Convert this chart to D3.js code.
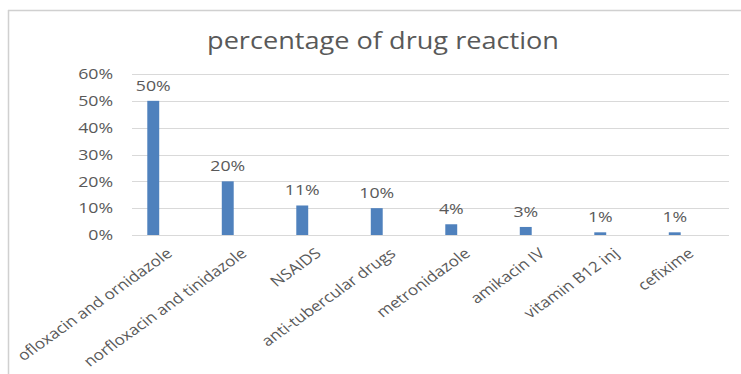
<!DOCTYPE html>
<html><head><meta charset="utf-8">
<script src="https://cdn.jsdelivr.net/npm/d3@7"></script>
<style>body{margin:0;background:#fff;}svg{display:block;}text{font-family:"Open Sans","Noto Sans",sans-serif;}</style>
</head><body><svg id="c" width="741" height="374"></svg>
<script>
const categories = ["ofloxacin and ornidazole","norfloxacin and tinidazole","NSAIDS","anti-tubercular drugs","metronidazole","amikacin IV","vitamin B12 inj","cefixime"];
const values = [50, 20, 11, 10, 4, 3, 1, 1];
const yTicks = [0, 10, 20, 30, 40, 50, 60];
const title = "percentage of drug reaction";

const svg = d3.select("#c");
const gray = "#595959";
const SX = 1.18; // horizontal stretch of the reference image

// frame
svg.append("line").attr("x1",8).attr("x2",741).attr("y1",10.5).attr("y2",10.5).attr("stroke","#d0d0d0").attr("stroke-width",1.5);
svg.append("line").attr("x1",8.5).attr("x2",8.5).attr("y1",10).attr("y2",374).attr("stroke","#d0d0d0").attr("stroke-width",1.5);

const x = d3.scaleBand().domain(categories).range([116, 712]).paddingInner(0.84).paddingOuter(0.42);
const y = d3.scaleLinear().domain([0, 60]).range([235, 74]);

// gridlines
svg.append("g").selectAll("line").data(yTicks).join("line")
  .attr("x1",132).attr("x2",729)
  .attr("y1",d=>Math.round(y(d))+0.5).attr("y2",d=>Math.round(y(d))+0.5)
  .attr("stroke","#d9d9d9").attr("stroke-width",1);

// y axis labels
const yAxis = d3.axisLeft(y).tickValues(yTicks).tickFormat(d=>d+"%").tickSize(0).tickPadding(0);
const ya = svg.append("g").attr("transform","translate(113,0)").call(yAxis);
ya.select(".domain").remove();
ya.selectAll("text").attr("fill",gray).attr("transform",`scale(${SX},1)`)
  .style("font-size","15px").style("font-family","'Open Sans','Noto Sans',sans-serif");

// bars
svg.append("g").selectAll("rect").data(values).join("rect")
  .attr("x",(d,i)=>x(categories[i]))
  .attr("width",x.bandwidth())
  .attr("y",d=>y(d))
  .attr("height",d=>y(0)-y(d))
  .attr("fill","#4f81bd");

// value labels
svg.append("g").selectAll("text").data(values).join("text")
  .attr("transform",(d,i)=>`translate(${x(categories[i])+x.bandwidth()/2},${y(d)-10}) scale(${SX},1)`)
  .attr("text-anchor","middle")
  .attr("fill",gray).style("font-size","15px")
  .text(d=>d+"%");

// x axis labels
svg.append("g").selectAll("text").data(categories).join("text")
  .attr("transform",d=>`translate(${x(d)+x.bandwidth()/2+20},255) scale(${SX},1) rotate(-40)`)
  .attr("text-anchor","end")
  .attr("fill",gray).style("font-size","14.5px")
  .text(d=>d);

// title
svg.append("text").attr("transform",`translate(383,49) scale(${SX},1)`).attr("text-anchor","middle")
  .attr("fill",gray).style("font-size","23px").text(title);
</script></body></html>
